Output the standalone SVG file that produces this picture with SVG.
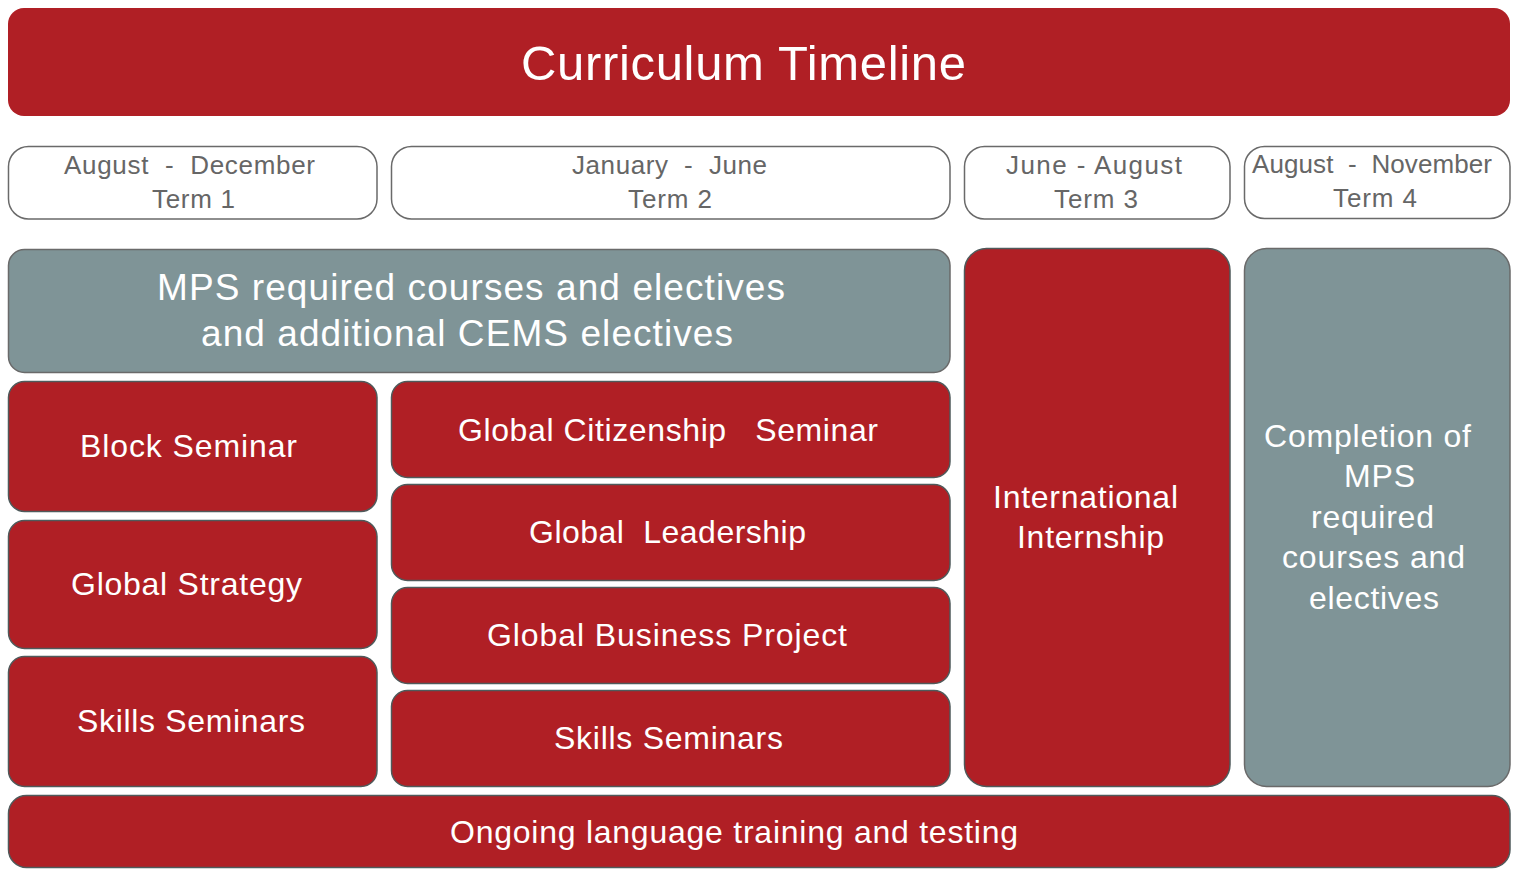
<svg xmlns="http://www.w3.org/2000/svg" width="1517" height="876" viewBox="0 0 1517 876">
<style>
.red{fill:#B01F25;stroke:#4F5A5B;stroke-width:1.5}
.gray{fill:#7F9497;stroke:#6A6A6A;stroke-width:1.5}
.term{fill:#FFFFFF;stroke:#6A6A6A;stroke-width:1.5}
text{font-family:"Liberation Sans",Arial,sans-serif;text-anchor:middle;white-space:pre}
.tt{fill:#666666;font-size:26px}
.w{fill:#FFFFFF;font-size:32px}
.wl{fill:#FFFFFF;font-size:37px}
</style>
<rect width="1517" height="876" fill="#FFFFFF"/>
<g id="title">
<rect x="8" y="8" width="1502" height="108" rx="16" fill="#B01F25"/>
<text x="743.5" y="80" style="fill:#FFFFFF;font-size:49px" textLength="445" lengthAdjust="spacing">Curriculum Timeline</text>
</g>
<g id="term1">
<rect class="term" x="8.5" y="146.5" width="368.5" height="72.5" rx="20"/>
<text class="tt" x="189.5" y="174" textLength="251" lengthAdjust="spacing" xml:space="preserve">August  -  December</text>
<text class="tt" x="193.5" y="208" textLength="83" lengthAdjust="spacing">Term 1</text>
</g>
<g id="term2">
<rect class="term" x="391.5" y="146.5" width="558.5" height="72.5" rx="20"/>
<text class="tt" x="669.5" y="174" textLength="195" lengthAdjust="spacing" xml:space="preserve">January  -  June</text>
<text class="tt" x="670" y="208" textLength="84" lengthAdjust="spacing">Term 2</text>
</g>
<g id="term3">
<rect class="term" x="964.5" y="146.5" width="265.5" height="72.5" rx="20"/>
<text class="tt" x="1094" y="174" textLength="176" lengthAdjust="spacing">June - August</text>
<text class="tt" x="1096" y="208" textLength="84" lengthAdjust="spacing">Term 3</text>
</g>
<g id="term4">
<rect class="term" x="1244.5" y="146.5" width="265.5" height="72" rx="20"/>
<text class="tt" x="1372" y="173" textLength="240" lengthAdjust="spacing" xml:space="preserve">August  -  November</text>
<text class="tt" x="1375" y="207" textLength="84" lengthAdjust="spacing">Term 4</text>
</g>
<g id="mps">
<rect class="gray" x="8.5" y="249.5" width="941.5" height="123" rx="16"/>
<text class="wl" x="471" y="300" textLength="628" lengthAdjust="spacing">MPS required courses and electives</text>
<text class="wl" x="467" y="346" textLength="532" lengthAdjust="spacing">and additional CEMS electives</text>
</g>
<g id="block-seminar">
<rect class="red" x="8.5" y="381.5" width="368.5" height="130" rx="16"/>
<text class="w" x="188.5" y="457" textLength="217" lengthAdjust="spacing">Block Seminar</text>
</g>
<g id="global-strategy">
<rect class="red" x="8.5" y="520.5" width="368.5" height="128" rx="16"/>
<text class="w" x="186.5" y="595" textLength="231" lengthAdjust="spacing">Global Strategy</text>
</g>
<g id="skills-seminars-1">
<rect class="red" x="8.5" y="656.5" width="368.5" height="130" rx="16"/>
<text class="w" x="191" y="732" textLength="228" lengthAdjust="spacing">Skills Seminars</text>
</g>
<g id="global-citizenship">
<rect class="red" x="391.5" y="381.5" width="558.5" height="96" rx="16"/>
<text class="w" x="668" y="441" textLength="420" lengthAdjust="spacing" xml:space="preserve">Global Citizenship   Seminar</text>
</g>
<g id="global-leadership">
<rect class="red" x="391.5" y="484.5" width="558.5" height="96" rx="16"/>
<text class="w" x="667.5" y="543" textLength="277" lengthAdjust="spacing" xml:space="preserve">Global  Leadership</text>
</g>
<g id="global-business-project">
<rect class="red" x="391.5" y="587.5" width="558.5" height="96" rx="16"/>
<text class="w" x="667" y="646" textLength="360" lengthAdjust="spacing">Global Business Project</text>
</g>
<g id="skills-seminars-2">
<rect class="red" x="391.5" y="690.5" width="558.5" height="96" rx="16"/>
<text class="w" x="668.5" y="749" textLength="229" lengthAdjust="spacing">Skills Seminars</text>
</g>
<g id="international-internship">
<rect class="red" x="964.5" y="248.5" width="265.5" height="538" rx="22"/>
<text class="w" x="1085.5" y="508" textLength="185" lengthAdjust="spacing">International</text>
<text class="w" x="1090.5" y="548" textLength="147" lengthAdjust="spacing">Internship</text>
</g>
<g id="completion">
<rect class="gray" x="1244.5" y="248.5" width="265.5" height="538" rx="22"/>
<text class="w" x="1367.5" y="447" textLength="207" lengthAdjust="spacing">Completion of</text>
<text class="w" x="1379.5" y="487" textLength="71" lengthAdjust="spacing">MPS</text>
<text class="w" x="1372.5" y="528" textLength="123" lengthAdjust="spacing">required</text>
<text class="w" x="1373.5" y="568" textLength="183" lengthAdjust="spacing">courses and</text>
<text class="w" x="1374" y="609" textLength="130" lengthAdjust="spacing">electives</text>
</g>
<g id="language">
<rect class="red" x="8.5" y="795.5" width="1501.5" height="72" rx="18"/>
<text class="w" x="734" y="843" textLength="568" lengthAdjust="spacing">Ongoing language training and testing</text>
</g>
<g id="connectors"></g>
</svg>
